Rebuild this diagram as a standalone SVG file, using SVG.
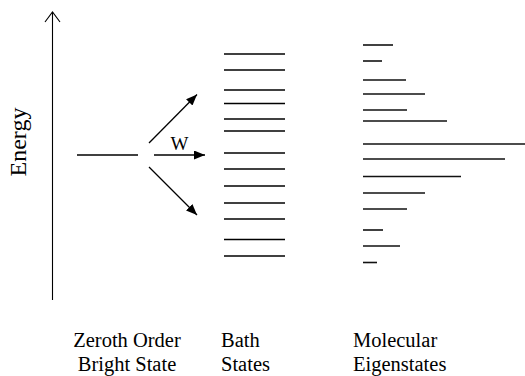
<svg xmlns="http://www.w3.org/2000/svg" width="525" height="376" viewBox="0 0 525 376">
  <defs>
    <marker id="head" markerWidth="11" markerHeight="9" refX="11" refY="4.5" orient="auto" markerUnits="userSpaceOnUse">
      <path d="M0,0 L11,4.5 L0,9 Z" fill="#000"/>
    </marker>
    <style>
      text { font-family: "Liberation Serif", "Times New Roman", serif; fill: #000; }
      .lbl { font-size: 20.5px; }
      .axis { stroke: #000; stroke-width: 1.1; fill: none; }
      .level { stroke: #000; stroke-width: 1.6; }
      .eig { stroke: #111; stroke-width: 1.6; }
      .arrow { stroke: #000; stroke-width: 1.3; fill: none; marker-end: url(#head); }
    </style>
  </defs>
  <rect width="525" height="376" fill="#fff"/>

  <!-- energy axis -->
  <g id="energy-axis">
    <line class="axis" x1="52.5" y1="300" x2="52.5" y2="12"/>
    <polyline class="axis" points="45,22 52.5,12 60,22"/>
    <text transform="translate(26,142) rotate(-90)" text-anchor="middle" font-size="24">Energy</text>
  </g>

  <!-- zeroth order bright state -->
  <g id="bright-state">
    <line class="level" x1="77" y1="155" x2="138" y2="155"/>
  </g>

  <!-- coupling arrows -->
  <g id="coupling">
    <line class="arrow" x1="149" y1="143" x2="197" y2="94.5"/>
    <line class="arrow" x1="154" y1="155" x2="205" y2="155"/>
    <line class="arrow" x1="149" y1="167" x2="197" y2="215"/>
    <text x="170.5" y="150" font-size="19">W</text>
  </g>

  <!-- bath states -->
  <g id="bath-states">
    <line class="level" x1="224" y1="54" x2="285" y2="54"/>
    <line class="level" x1="224" y1="70" x2="285" y2="70"/>
    <line class="level" x1="224" y1="90" x2="285" y2="90"/>
    <line class="level" x1="224" y1="103.5" x2="285" y2="103.5"/>
    <line class="level" x1="224" y1="119" x2="285" y2="119"/>
    <line class="level" x1="224" y1="131" x2="285" y2="131"/>
    <line class="level" x1="224" y1="153" x2="285" y2="153"/>
    <line class="level" x1="224" y1="169" x2="285" y2="169"/>
    <line class="level" x1="224" y1="186" x2="285" y2="186"/>
    <line class="level" x1="224" y1="203" x2="285" y2="203"/>
    <line class="level" x1="224" y1="219" x2="285" y2="219"/>
    <line class="level" x1="224" y1="239.5" x2="285" y2="239.5"/>
    <line class="level" x1="224" y1="256" x2="285" y2="256"/>
  </g>

  <!-- molecular eigenstates -->
  <g id="eigenstates">
    <line class="eig" x1="363" y1="45" x2="393" y2="45"/>
    <line class="eig" x1="363" y1="61" x2="382" y2="61"/>
    <line class="eig" x1="363" y1="80" x2="406" y2="80"/>
    <line class="eig" x1="363" y1="94" x2="425" y2="94"/>
    <line class="eig" x1="363" y1="110" x2="407" y2="110"/>
    <line class="eig" x1="363" y1="121" x2="447" y2="121"/>
    <line class="eig" x1="363" y1="144" x2="525" y2="144"/>
    <line class="eig" x1="363" y1="159" x2="505" y2="159"/>
    <line class="eig" x1="363" y1="176.5" x2="461" y2="176.5"/>
    <line class="eig" x1="363" y1="193" x2="425" y2="193"/>
    <line class="eig" x1="363" y1="209" x2="407" y2="209"/>
    <line class="eig" x1="363" y1="230" x2="383" y2="230"/>
    <line class="eig" x1="363" y1="246" x2="400" y2="246"/>
    <line class="eig" x1="363" y1="262.5" x2="377" y2="262.5"/>
  </g>

  <!-- column labels -->
  <g id="labels">
    <text class="lbl" x="127" y="347" text-anchor="middle">Zeroth Order</text>
    <text class="lbl" x="127" y="371" text-anchor="middle">Bright State</text>
    <text class="lbl" x="221" y="347">Bath</text>
    <text class="lbl" x="221" y="371">States</text>
    <text class="lbl" x="353" y="347">Molecular</text>
    <text class="lbl" x="353" y="371">Eigenstates</text>
  </g>
</svg>
